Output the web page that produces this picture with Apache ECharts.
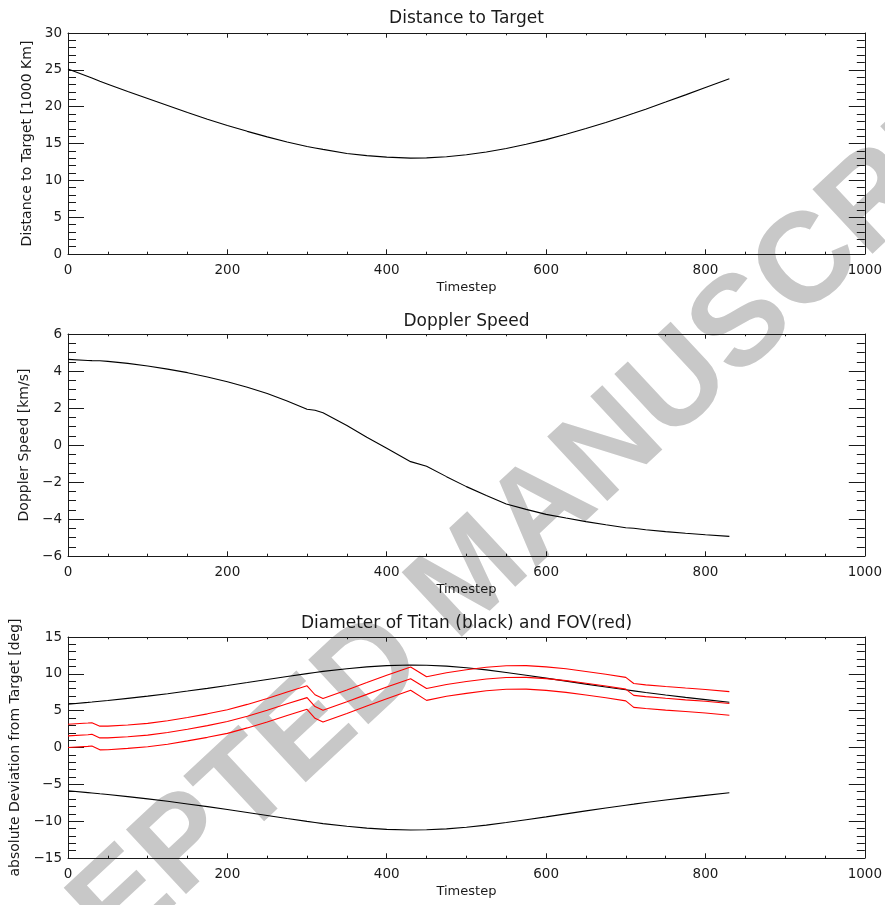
<!DOCTYPE html>
<html>
<head>
<meta charset="utf-8">
<title>Distance, Doppler speed and FOV</title>
<script src="https://cdn.jsdelivr.net/npm/echarts@6/dist/echarts.min.js"></script>
<style>
  html, body { margin: 0; padding: 0; background: #fff; }
  #main { width: 885px; height: 905px; }
</style>
</head>
<body>
<div id="main"></div>
<script>
// timesteps shared by every curve
const steps = [0, 25, 30, 40, 50, 75, 100, 125, 150, 175, 200, 225, 250, 275, 300, 310, 320, 350, 375, 400,
  430, 450, 475, 500, 525, 550, 575, 600, 625, 650, 675, 700, 710, 725, 750, 775, 800, 830];

// distance to target [1000 km]
const distance = [25.1, 24.1, 23.9, 23.45, 23.05, 22.05, 21.1, 20.15, 19.2, 18.3, 17.45, 16.65, 15.9, 15.2, 14.6, 14.4, 14.2, 13.65, 13.35, 13.15,
  13.02, 13.05, 13.2, 13.47, 13.85, 14.33, 14.9, 15.53, 16.25, 17.03, 17.86, 18.74, 19.1, 19.66, 20.62, 21.6, 22.6, 23.8];

// doppler speed [km/s]
const doppler = [4.63, 4.57, 4.56, 4.55, 4.52, 4.41, 4.27, 4.1, 3.91, 3.68, 3.42, 3.12, 2.78, 2.38, 1.93, 1.88, 1.74, 1.05, 0.42, -0.18,
  -0.9, -1.15, -1.71, -2.25, -2.73, -3.19, -3.48, -3.75, -3.95, -4.14, -4.31, -4.47, -4.5, -4.58, -4.68, -4.77, -4.85, -4.94];

// titan diameter edges [deg]
const titanUpper = [5.88, 6.12, 6.17, 6.28, 6.38, 6.67, 6.97, 7.3, 7.66, 8.03, 8.42, 8.82, 9.23, 9.64, 10.03, 10.18, 10.33, 10.7, 10.95, 11.12,
  11.2, 11.17, 11.05, 10.83, 10.54, 10.19, 9.81, 9.42, 9.01, 8.6, 8.21, 7.83, 7.69, 7.46, 7.12, 6.8, 6.5, 6.15];
const titanLower = [-5.88, -6.12, -6.17, -6.28, -6.38, -6.67, -6.97, -7.3, -7.66, -8.03, -8.42, -8.82, -9.23, -9.64, -10.03, -10.18, -10.33, -10.7, -10.95, -11.12,
  -11.2, -11.17, -11.05, -10.83, -10.54, -10.19, -9.81, -9.42, -9.01, -8.6, -8.21, -7.83, -7.69, -7.46, -7.12, -6.8, -6.5, -6.15];

// field of view [deg]
const fovTop = [3.15, 3.32, 3.37, 2.9, 2.9, 3.06, 3.28, 3.64, 4.08, 4.57, 5.12, 5.85, 6.65, 7.54, 8.37, 7.16, 6.65, 7.82, 8.81, 9.82,
  10.94, 9.6, 10.15, 10.55, 10.9, 11.1, 11.12, 10.95, 10.68, 10.32, 9.95, 9.52, 8.68, 8.5, 8.28, 8.07, 7.88, 7.58];
const fovMid = [1.58, 1.73, 1.79, 1.3, 1.3, 1.46, 1.68, 2.04, 2.48, 2.97, 3.52, 4.25, 5.05, 5.94, 6.77, 5.56, 5.05, 6.22, 7.21, 8.22,
  9.33, 8.0, 8.55, 8.95, 9.3, 9.5, 9.52, 9.35, 9.08, 8.72, 8.35, 7.92, 7.07, 6.9, 6.68, 6.47, 6.28, 5.98];
const fovBottom = [0.0, 0.15, 0.2, -0.32, -0.3, -0.12, 0.1, 0.45, 0.9, 1.38, 1.92, 2.66, 3.46, 4.35, 5.18, 3.96, 3.45, 4.63, 5.62, 6.62,
  7.76, 6.4, 6.95, 7.35, 7.7, 7.9, 7.92, 7.75, 7.48, 7.12, 6.75, 6.33, 5.45, 5.3, 5.08, 4.88, 4.68, 4.37];

const titles = ['Distance to Target', 'Doppler Speed', 'Diameter of Titan (black) and FOV(red)'];
const yNames = ['Distance to Target [1000 Km]', 'Doppler Speed [km/s]', 'absolute Deviation from Target [deg]'];

const font = "'DejaVu Sans', sans-serif";
const ink = '#1a1a1a';

const grids = [
  { left: 68, right: 20, top: 33, height: 221 },
  { left: 68, right: 20, top: 334, height: 222 },
  { left: 68, right: 20, top: 637, height: 221 }
];
const yRange = [
  { min: 0, max: 30, interval: 5, minor: 5, gap: 33 },
  { min: -6, max: 6, interval: 2, minor: 4, gap: 34 },
  { min: -15, max: 15, interval: 5, minor: 5, gap: 39 }
];

const pairs = vals => steps.map((t, i) => [t, vals[i]]);
const minus = v => String(v).replace('-', '\u2212');

const xAxes = [];
const yAxes = [];
grids.forEach((g, i) => {
  xAxes.push({
    type: 'value', gridIndex: i, position: 'bottom', min: 0, max: 1000, interval: 200,
    name: 'Timestep', nameLocation: 'middle', nameGap: 27,
    nameTextStyle: { fontFamily: font, fontSize: 13, color: ink },
    axisLine: { show: true, onZero: false, lineStyle: { color: ink, width: 1 } },
    axisTick: { show: true, inside: true, length: 4.7, lineStyle: { color: ink } },
    minorTick: { show: true, splitNumber: 4, length: 2.3, lineStyle: { color: ink } },
    splitLine: { show: false },
    axisLabel: { margin: 9, fontFamily: font, fontSize: 13.5, color: ink, formatter: v => String(v) }
  });
  yAxes.push({
    type: 'value', gridIndex: i, position: 'left',
    min: yRange[i].min, max: yRange[i].max, interval: yRange[i].interval,
    name: yNames[i], nameLocation: 'middle', nameGap: yRange[i].gap,
    nameTextStyle: { fontFamily: font, fontSize: 14, color: ink },
    axisLine: { show: true, onZero: false, lineStyle: { color: ink, width: 1 } },
    axisTick: { show: true, inside: true, length: 16, lineStyle: { color: ink } },
    minorTick: { show: true, splitNumber: yRange[i].minor, length: 8, lineStyle: { color: ink } },
    splitLine: { show: false },
    axisLabel: { margin: 6, fontFamily: font, fontSize: 13.5, color: ink, formatter: minus }
  });
});
// box: top and right axes without labels
grids.forEach((g, i) => {
  xAxes.push({
    type: 'value', gridIndex: i, position: 'top', min: 0, max: 1000, interval: 200,
    axisLine: { show: true, onZero: false, lineStyle: { color: ink, width: 1 } },
    axisTick: { show: true, inside: true, length: 4.7, lineStyle: { color: ink } },
    minorTick: { show: true, splitNumber: 4, length: 2.3, lineStyle: { color: ink } },
    axisLabel: { show: false }, splitLine: { show: false }
  });
  yAxes.push({
    type: 'value', gridIndex: i, position: 'right',
    min: yRange[i].min, max: yRange[i].max, interval: yRange[i].interval,
    axisLine: { show: true, onZero: false, lineStyle: { color: ink, width: 1 } },
    axisTick: { show: true, inside: true, length: 16, lineStyle: { color: ink } },
    minorTick: { show: true, splitNumber: yRange[i].minor, length: 8, lineStyle: { color: ink } },
    axisLabel: { show: false }, splitLine: { show: false }
  });
});

function line(name, vals, grid, color) {
  return {
    name: name, type: 'line', xAxisIndex: grid, yAxisIndex: grid,
    data: pairs(vals), showSymbol: false, symbol: 'none',
    lineStyle: { color: color, width: 1.1 }, z: 3
  };
}

const titleY = [19, 322, 624];
const graphics = [{
  type: 'text', x: 473, y: 578, rotation: 43 * Math.PI / 180, z: -10,
  style: {
    text: 'ACCEPTED MANUSCRIPT', fontFamily: "'Liberation Sans', Arial, sans-serif",
    fontWeight: 'bold', fontSize: 128, fill: '#c8c8c8', align: 'center', verticalAlign: 'middle'
  }
}];
titles.forEach((t, i) => {
  graphics.push({
    type: 'text', x: 466.5, y: titleY[i], z: 10,
    style: { text: t, fontFamily: font, fontSize: 17, fill: ink, align: 'center', verticalAlign: 'middle' }
  });
});

const chart = echarts.init(document.getElementById('main'));
chart.setOption({
  animation: false,
  backgroundColor: '#fff',
  grid: grids,
  xAxis: xAxes,
  yAxis: yAxes,
  graphic: graphics,
  series: [
    line('distance', distance, 0, '#000'),
    line('doppler', doppler, 1, '#000'),
    line('titan upper', titanUpper, 2, '#000'),
    line('titan lower', titanLower, 2, '#000'),
    line('fov top', fovTop, 2, '#ff0000'),
    line('fov mid', fovMid, 2, '#ff0000'),
    line('fov bottom', fovBottom, 2, '#ff0000')
  ]
});
</script>
</body>
</html>
